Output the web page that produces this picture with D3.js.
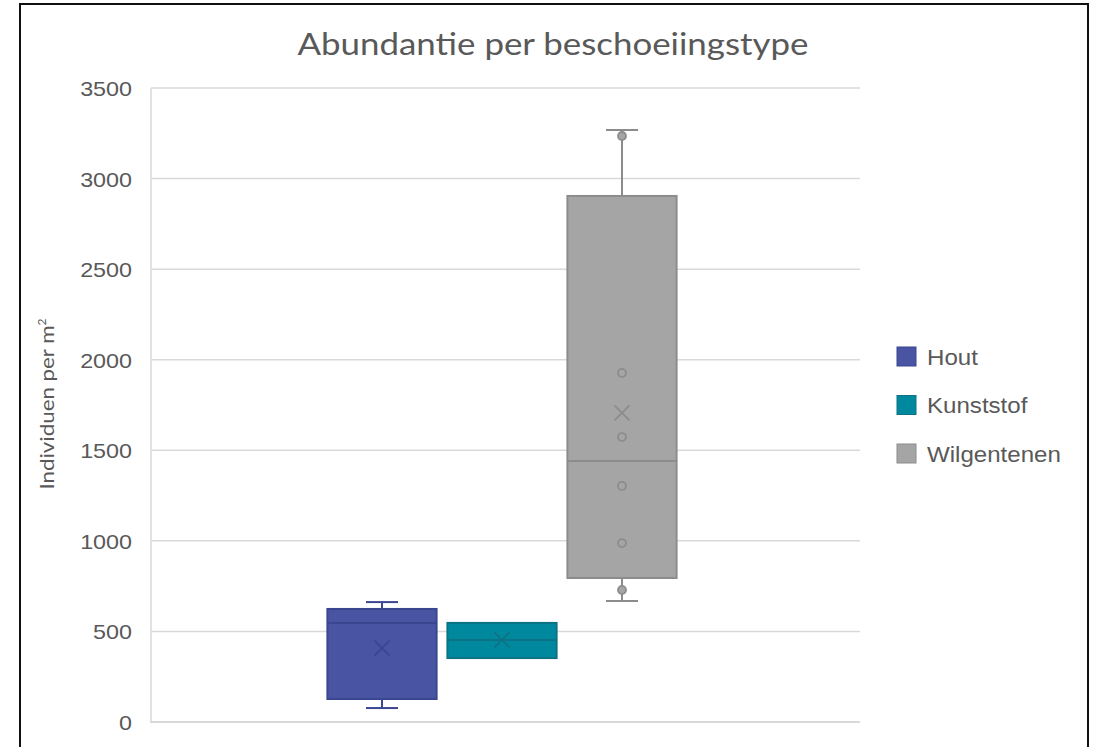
<!DOCTYPE html>
<html>
<head>
<meta charset="utf-8">
<script src="https://cdn.jsdelivr.net/npm/d3@7"></script>
<style>
  html, body { margin: 0; padding: 0; background: #fff; }
  svg { display: block; }
</style>
</head>
<body>
<svg id="chart" width="1099" height="747"></svg>
<script>
// ---- data ----
const series = ["Hout", "Kunststof", "Wilgentenen"];
const whiskerMin = [77, 353, 668];
const q1Values = [127, 353, 795];
const medianValues = [547, 453, 1441];
const q3Values = [624, 547, 2904];
const whiskerMax = [662, 547, 3268];
const meanValues = [408, 453, 1706];
const pointsHout = [];
const pointsKunststof = [];
const pointsWilgentenen = [729, 988, 1303, 1573, 1927, 3235];
const yTicks = [0, 500, 1000, 1500, 2000, 2500, 3000, 3500];
const fillColors = ["#4955A3", "#00899E", "#A5A5A5"];
const strokeColors = ["#3A4690", "#0D7384", "#8C8C8C"];
const title = "Abundantie per beschoeiingstype";

const points = [pointsHout, pointsKunststof, pointsWilgentenen];

const svg = d3.select("#chart");

function stretch(sel, f) {
  sel.each(function () {
    const len = this.getComputedTextLength();
    d3.select(this).attr("textLength", len * f).attr("lengthAdjust", "spacingAndGlyphs");
  });
}

// outer border
svg.append("rect")
  .attr("x", 20).attr("y", 4).attr("width", 1068).attr("height", 760)
  .attr("fill", "#fff").attr("stroke", "#111").attr("stroke-width", 2);

const plot = { left: 151, right: 860, top: 88, bottom: 722 };

const y = d3.scaleLinear().domain([0, 3500]).range([plot.bottom, plot.top]);
const x = d3.scaleBand().domain(series).range([322, 682]).paddingInner(0.09).paddingOuter(0.045);

// gridlines
svg.append("g").selectAll("line").data(yTicks.filter(d => d > 0)).join("line")
  .attr("x1", plot.left).attr("x2", plot.right)
  .attr("y1", d => y(d)).attr("y2", d => y(d))
  .attr("stroke", "#D9D9D9").attr("stroke-width", 1.5);

// axes lines
svg.append("line").attr("x1", plot.left).attr("x2", plot.left)
  .attr("y1", plot.top).attr("y2", plot.bottom)
  .attr("stroke", "#D9D9D9").attr("stroke-width", 1.5);
svg.append("line").attr("x1", plot.left - 1).attr("x2", plot.right)
  .attr("y1", plot.bottom).attr("y2", plot.bottom)
  .attr("stroke", "#D9D9D9").attr("stroke-width", 2);

// y axis labels
const yAxis = d3.axisLeft(y).tickValues(yTicks).tickFormat(d3.format("d")).tickSize(0).tickPadding(19);
const gy = svg.append("g").attr("transform", `translate(${plot.left},0)`).call(yAxis);
gy.select(".domain").remove();
gy.selectAll("text")
  .attr("font-family", "Liberation Sans, Arial, sans-serif")
  .attr("font-size", 21).attr("fill", "#595959").attr("dy", "0.36em");
stretch(gy.selectAll("text"), 1.11);

// title
const tt = svg.append("text")
  .attr("x", 553).attr("y", 55)
  .attr("text-anchor", "middle")
  .attr("font-family", "Lato, 'Open Sans', sans-serif")
  .attr("font-size", 31).attr("fill", "#595959")
  .text(title);
stretch(tt, 1.125);

// y axis title
const yt = svg.append("text")
  .attr("transform", "translate(54,404) rotate(-90)")
  .attr("text-anchor", "middle")
  .attr("font-family", "Lato, 'Open Sans', sans-serif")
  .attr("font-size", 19).attr("fill", "#595959");
const ytMain = yt.append("tspan").text("Individuen per m");
yt.append("tspan").attr("font-size", 12).attr("dy", "-0.7em").text("2");
ytMain.attr("textLength", 164).attr("lengthAdjust", "spacingAndGlyphs");

// boxes
const capW = 32;
const idx = d3.range(series.length);
const g = svg.append("g");
idx.forEach(i => {
  const x0 = x(series[i]);
  const bw = x.bandwidth();
  const cx = x0 + bw / 2;
  const sg = g.append("g");
  if (whiskerMax[i] > q3Values[i]) {
    sg.append("line").attr("x1", cx).attr("x2", cx).attr("y1", y(q3Values[i])).attr("y2", y(whiskerMax[i]))
      .attr("stroke", strokeColors[i]).attr("stroke-width", 2);
    sg.append("line").attr("x1", cx - capW / 2).attr("x2", cx + capW / 2).attr("y1", y(whiskerMax[i])).attr("y2", y(whiskerMax[i]))
      .attr("stroke", strokeColors[i]).attr("stroke-width", 2);
  }
  if (whiskerMin[i] < q1Values[i]) {
    sg.append("line").attr("x1", cx).attr("x2", cx).attr("y1", y(q1Values[i])).attr("y2", y(whiskerMin[i]))
      .attr("stroke", strokeColors[i]).attr("stroke-width", 2);
    sg.append("line").attr("x1", cx - capW / 2).attr("x2", cx + capW / 2).attr("y1", y(whiskerMin[i])).attr("y2", y(whiskerMin[i]))
      .attr("stroke", strokeColors[i]).attr("stroke-width", 2);
  }
  sg.append("rect")
    .attr("x", x0).attr("width", bw)
    .attr("y", y(q3Values[i])).attr("height", y(q1Values[i]) - y(q3Values[i]))
    .attr("fill", fillColors[i]).attr("stroke", strokeColors[i]).attr("stroke-width", 2);
  sg.append("line").attr("x1", x0).attr("x2", x0 + bw)
    .attr("y1", y(medianValues[i])).attr("y2", y(medianValues[i]))
    .attr("stroke", strokeColors[i]).attr("stroke-width", 2);
  const my = y(meanValues[i]);
  const s = 7.5;
  sg.append("path")
    .attr("d", `M${cx - s},${my - s}L${cx + s},${my + s}M${cx - s},${my + s}L${cx + s},${my - s}`)
    .attr("stroke", strokeColors[i]).attr("stroke-width", 1.8).attr("fill", "none");
  sg.selectAll("circle").data(points[i]).join("circle")
    .attr("cx", cx).attr("cy", d => y(d)).attr("r", 4)
    .attr("fill", fillColors[i]).attr("stroke", strokeColors[i]).attr("stroke-width", 1.8);
});

// legend
const lg = svg.append("g");
idx.forEach(i => {
  const ly = 357 + i * 48.5;
  lg.append("rect").attr("x", 897).attr("y", ly - 10).attr("width", 19).attr("height", 19)
    .attr("fill", fillColors[i]).attr("stroke", strokeColors[i]).attr("stroke-width", 1);
  const t = lg.append("text").attr("x", 927).attr("y", ly).attr("dy", "0.36em")
    .attr("font-family", "Liberation Sans, Arial, sans-serif")
    .attr("font-size", 21.5).attr("fill", "#595959").text(series[i]);
  stretch(t, 1.12);
});
</script>
</body>
</html>
